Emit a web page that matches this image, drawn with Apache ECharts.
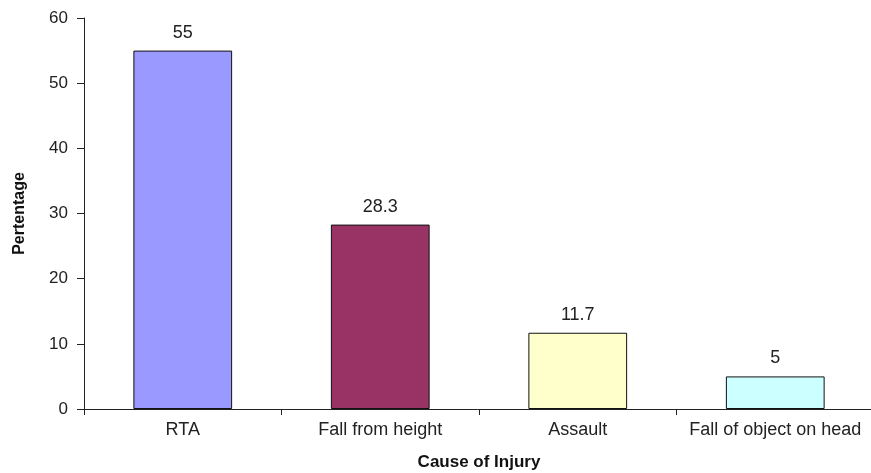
<!DOCTYPE html>
<html>
<head>
<meta charset="utf-8">
<script src="https://cdn.jsdelivr.net/npm/echarts@6/dist/echarts.min.js"></script>
<style>
html,body{margin:0;padding:0;background:#fff;}
#chart{width:871px;height:473px;}
</style>
</head>
<body>
<div id="chart"></div>
<script>
const categories = ["RTA", "Fall from height", "Assault", "Fall of object on head"];
const values = [55, 28.3, 11.7, 5];
const barColors = ["#9999FF", "#993366", "#FFFFCC", "#CCFFFF"];
const yTicks = [0, 10, 20, 30, 40, 50, 60];
const xTitle = "Cause of Injury";
const yTitle = "Pertentage";

const font = "'Liberation Sans', Arial, sans-serif";
const chart = echarts.init(document.getElementById('chart'), null, {renderer: 'canvas'});
chart.setOption({
  animation: false,
  backgroundColor: '#ffffff',
  grid: {left: 84, top: 18, width: 790, height: 391, containLabel: false, outerBoundsMode: 'none'},
  xAxis: {
    type: 'category',
    data: categories,
    name: xTitle,
    nameLocation: 'middle',
    nameGap: 45,
    nameTextStyle: {fontFamily: font, fontSize: 17, fontWeight: 'bold', color: '#111'},
    axisLine: {lineStyle: {color: '#222', width: 1}},
    axisTick: {show: true, length: 6, interval: 0, lineStyle: {color: '#222'}},
    axisLabel: {interval: 0, fontFamily: font, fontSize: 18, color: '#222', margin: 12}
  },
  yAxis: {
    type: 'value',
    min: yTicks[0],
    max: yTicks[yTicks.length - 1],
    interval: 10,
    name: yTitle,
    nameLocation: 'middle',
    nameGap: 56,
    nameRotate: 90,
    nameTextStyle: {fontFamily: font, fontSize: 16, fontWeight: 'bold', color: '#111'},
    axisLine: {show: true, lineStyle: {color: '#222', width: 1}},
    axisTick: {show: true, length: 7, lineStyle: {color: '#222'}},
    axisLabel: {fontFamily: font, fontSize: 17, color: '#222', margin: 16},
    splitLine: {show: false}
  },
  series: [{
    type: 'bar',
    barWidth: '50%',
    data: values.map((v, i) => ({value: v, itemStyle: {color: barColors[i]}})),
    itemStyle: {borderColor: '#111', borderWidth: 1},
    label: {show: true, position: 'top', distance: 9, fontFamily: font, fontSize: 18, color: '#222'}
  }]
});
</script>
</body>
</html>
